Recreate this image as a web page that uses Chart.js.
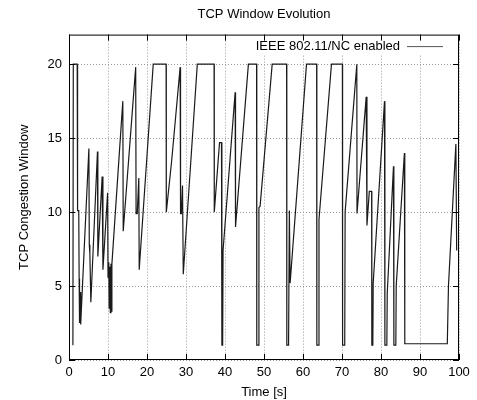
<!DOCTYPE html>
<html>
<head>
<meta charset="utf-8">
<title>TCP Window Evolution</title>
<script src="https://cdn.jsdelivr.net/npm/chart.js@4.4.0/dist/chart.umd.min.js"></script>
<style>
  html, body { margin: 0; padding: 0; background: #fff; }
  #wrap { width: 477px; height: 400px; }
</style>
</head>
<body>
<div id="wrap"><canvas id="lineChart" width="477" height="400"></canvas></div>
<script>
// Sample times in seconds
var timeValues = [
  1.0, 1.1, 2.1, 2.2, 2.5, 2.6, 2.7, 2.85, 3.0, 3.1,
  5.1, 5.2, 5.35, 5.6, 7.3, 7.4, 8.5, 8.7, 9.9, 10.0,
  10.2, 10.3, 10.45, 10.6, 10.75, 10.9, 11.0, 13.8, 13.9, 17.1,
  17.2, 17.5, 17.9, 18.0, 21.6, 24.9, 24.95, 26.3, 28.5, 28.6,
  28.8, 29.1, 29.3, 32.9, 37.2, 37.25, 38.6, 39.1, 39.2, 39.4,
  39.5, 42.6, 42.7, 46.0, 48.1, 48.15, 48.6, 48.7, 49.0, 52.1,
  55.8, 55.85, 56.3, 56.5, 56.7, 60.9, 63.5, 63.55, 64.0, 64.1,
  67.3, 70.1, 70.15, 70.7, 70.8, 73.8, 73.85, 76.2, 76.4, 77.0,
  77.6, 77.65, 77.9, 78.0, 80.9, 81.0, 81.5, 81.6, 83.2, 83.3,
  83.8, 83.9, 86.0, 86.1, 97.0, 97.3, 99.2, 99.4
];

// TCP congestion window at each sample time
var cwndValues = [
  1.0, 20, 20, 10.1, 10.1, 5.5, 2.5, 4.6, 2.4, 3.0,
  14.3, 7.8, 7.2, 3.9, 14.1, 7.0, 12.4, 6.1, 11.3, 5.6,
  6.6, 3.5, 6.3, 3.2, 6.5, 3.3, 6.5, 17.5, 8.7, 19.8,
  9.9, 9.9, 12.3, 6.1, 20, 20, 10, 13.4, 19.8, 9.9,
  9.9, 11.8, 5.8, 20, 20, 10, 14.7, 14.7, 1.0, 1.0,
  7.4, 18.1, 9.0, 20, 20, 1.0, 1.0, 10.3, 10.4, 20,
  20, 1.0, 1.0, 10.1, 5.2, 20, 20, 1.0, 1.0, 9.5,
  20, 20, 1.0, 1.0, 10.0, 20, 9.9, 17.8, 9.1, 11.4,
  11.4, 1.0, 1.0, 5.2, 17.5, 1.0, 1.0, 4.5, 13.1, 1.0,
  1.0, 5.0, 14.0, 1.1, 1.1, 5.0, 14.6, 7.4
];

var xTickValues = [0, 10, 20, 30, 40, 50, 60, 70, 80, 90, 100];
var yTickValues = [0, 5, 10, 15, 20];
var seriesLabel = 'IEEE 802.11/NC enabled';

var fontFamily = "'Liberation Sans', Arial, Helvetica, sans-serif";
Chart.defaults.font.family = fontFamily;
Chart.defaults.font.size = 13;
Chart.defaults.color = '#000';

// Gnuplot style frame, inward ticks and an opaque key in the top right corner
var gnuplotFrame = {
  id: 'gnuplotFrame',
  afterDatasetsDraw: function(chart) {
    var c = chart.ctx;
    var a = chart.chartArea;
    var xs = chart.scales.x;
    var ys = chart.scales.y;
    c.save();

    // key
    c.font = '13px ' + fontFamily;
    c.textAlign = 'right';
    c.textBaseline = 'middle';
    var textRight = a.right - 59;
    var keyY = a.top + 12;
    var w = c.measureText(seriesLabel).width;
    c.fillStyle = '#fff';
    c.fillRect(textRight - w - 3, keyY - 8, w + 50, 16);
    c.fillStyle = '#000';
    c.fillText(seriesLabel, textRight, keyY);
    c.strokeStyle = '#555';
    c.lineWidth = 1;
    c.beginPath();
    c.moveTo(textRight + 7, keyY);
    c.lineTo(textRight + 43, keyY);
    c.stroke();

    // border
    c.strokeStyle = '#000';
    c.lineWidth = 1;
    c.strokeRect(a.left + 0.5, a.top + 0.5, a.right - a.left - 1, a.bottom - a.top - 1);

    // ticks pointing into the plot, mirrored on top and right
    var len = 6;
    c.beginPath();
    xTickValues.forEach(function(v) {
      var px = Math.round(xs.getPixelForValue(v)) + 0.5;
      c.moveTo(px, a.bottom);
      c.lineTo(px, a.bottom - len);
      c.moveTo(px, a.top);
      c.lineTo(px, a.top + len);
    });
    yTickValues.forEach(function(v) {
      var py = Math.round(ys.getPixelForValue(v)) + 0.5;
      c.moveTo(a.left, py);
      c.lineTo(a.left + len, py);
      c.moveTo(a.right, py);
      c.lineTo(a.right - len, py);
    });
    c.stroke();
    c.restore();
  }
};

var points = timeValues.map(function(t, i) {
  return { x: t, y: cwndValues[i] };
});

var ctx = document.getElementById('lineChart').getContext('2d');
var chartInstance = new Chart(ctx, {
  type: 'line',
  data: {
    datasets: [{
      label: seriesLabel,
      data: points,
      borderColor: '#1a1a1a',
      borderWidth: 1.2,
      pointRadius: 0,
      tension: 0,
      fill: false
    }]
  },
  options: {
    responsive: false,
    animation: false,
    devicePixelRatio: 1,
    layout: {
      padding: { left: 0, right: 18, top: 0, bottom: 0 }
    },
    plugins: {
      legend: { display: false },
      tooltip: { enabled: false },
      title: {
        display: true,
        text: 'TCP Window Evolution',
        fullSize: false,
        color: '#000',
        font: { size: 13, weight: 'normal' },
        padding: { top: 7, bottom: 12 }
      }
    },
    scales: {
      x: {
        type: 'linear',
        min: 0,
        max: 100,
        afterBuildTicks: function(scale) {
          scale.ticks = xTickValues.map(function(v) { return { value: v }; });
        },
        afterFit: function(scale) {
          scale.height = 40;
        },
        ticks: { padding: 5, maxRotation: 0, autoSkip: false },
        grid: { color: '#999', lineWidth: 1, drawTicks: false },
        border: { display: false, dash: [1, 2] },
        title: {
          display: true,
          text: 'Time [s]',
          font: { size: 13 },
          padding: { top: 0, bottom: 0 }
        }
      },
      y: {
        type: 'linear',
        min: 0,
        max: 22,
        afterBuildTicks: function(scale) {
          scale.ticks = yTickValues.map(function(v) { return { value: v }; });
        },
        afterFit: function(scale) {
          scale.width = 69;
        },
        ticks: { padding: 7, autoSkip: false },
        grid: { color: '#999', lineWidth: 1, drawTicks: false },
        border: { display: false, dash: [1, 2] },
        title: {
          display: true,
          text: 'TCP Congestion Window',
          font: { size: 13 },
          padding: { top: 17, bottom: 0 }
        }
      }
    }
  },
  plugins: [gnuplotFrame]
});
</script>
</body>
</html>
